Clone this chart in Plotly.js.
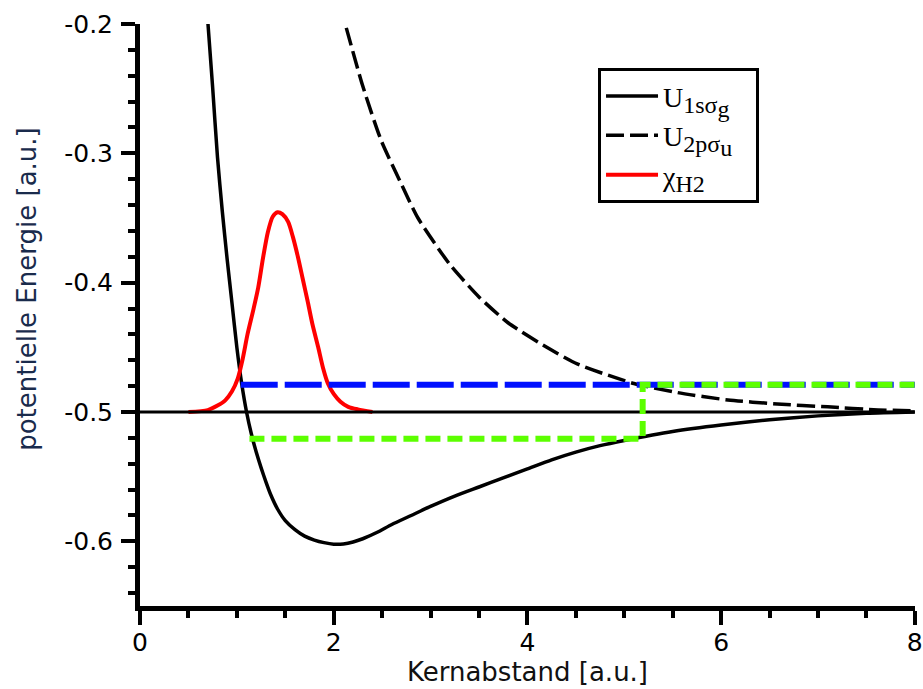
<!DOCTYPE html>
<html>
<head>
<meta charset="utf-8">
<script src="https://cdn.plot.ly/plotly-3.0.1.min.js"></script>
<style>html,body{margin:0;padding:0;background:#fff;}#chart{width:923px;height:689px;}</style>
</head>
<body>
<div id="chart"></div>
<script>
// Kernabstand R [a.u.] and potential energies [a.u.]
var u1R = [0.70,0.75,0.80,0.85,0.90,0.95,1.00,1.05,1.10,1.15,1.20,1.25,1.30,1.35,1.42,1.50,1.60,1.70,1.80,1.90,2.00,2.10,2.20,2.30,2.45,2.60,2.80,3.00,3.25,3.50,3.75,4.00,4.25,4.50,4.75,5.00,5.50,6.00,6.50,7.00,7.50,8.00];
var u1E = [-0.198,-0.249,-0.303,-0.345,-0.382,-0.416,-0.450,-0.478,-0.500,-0.517,-0.531,-0.543,-0.554,-0.564,-0.575,-0.584,-0.591,-0.596,-0.599,-0.601,-0.6022,-0.602,-0.6005,-0.598,-0.593,-0.587,-0.580,-0.573,-0.565,-0.558,-0.551,-0.544,-0.537,-0.531,-0.526,-0.522,-0.515,-0.510,-0.506,-0.503,-0.501,-0.500];

var u2R = [2.13,2.30,2.49,2.70,2.87,3.20,3.50,3.80,4.20,4.52,5.10,5.55,6.07,6.58,7.10,7.62,8.00];
var u2E = [-0.203,-0.248,-0.290,-0.324,-0.350,-0.386,-0.411,-0.431,-0.450,-0.463,-0.478,-0.485,-0.4907,-0.4938,-0.496,-0.4984,-0.499];

var chiR = [0.50,0.70,0.80,0.88,0.95,1.01,1.06,1.11,1.17,1.22,1.27,1.32,1.37,1.42,1.47,1.53,1.58,1.63,1.68,1.73,1.78,1.84,1.89,1.94,2.00,2.07,2.15,2.25,2.40];
var chiE = [-0.500,-0.4985,-0.495,-0.491,-0.484,-0.474,-0.459,-0.440,-0.421,-0.404,-0.381,-0.361,-0.349,-0.3455,-0.347,-0.353,-0.365,-0.380,-0.397,-0.414,-0.432,-0.450,-0.466,-0.478,-0.486,-0.492,-0.496,-0.498,-0.500];

var asymR = [0, 8];
var asymE = [-0.5, -0.5];

var blueR = [1.04, 8];
var blueE = [-0.479, -0.479];

var greenR = [1.13, 5.19, 5.19, 8];
var greenE = [-0.5207, -0.5207, -0.479, -0.479];

var xTickVals = [0, 2, 4, 6, 8];
var xTickText = ['0', '2', '4', '6', '8'];
var yTickVals = [-0.2, -0.3, -0.4, -0.5, -0.6];
var yTickText = ['-0.2', '-0.3', '-0.4', '-0.5', '-0.6'];

var names = [
  'U<sub><span style="font-size:24px">1sσ</span><sub><span style="font-size:24px">g</span></sub></sub>\u00A0\u00A0\u00A0',
  'U<sub><span style="font-size:24px">2pσ</span><sub><span style="font-size:24px">u</span></sub></sub>',
  'χ<sub><span style="font-size:24px">H2</span></sub>'
];

var traces = [
  {x: u1R, y: u1E, name: names[0], legendrank: 1, mode: 'lines', line: {color: '#000', width: 3.5, shape: 'spline', smoothing: 0.6}},
  {x: chiR, y: chiE, name: names[2], legendrank: 3, mode: 'lines', line: {color: '#ff0000', width: 4, shape: 'spline', smoothing: 0.7}},
  {x: asymR, y: asymE, showlegend: false, mode: 'lines', line: {color: '#000', width: 3}},
  {x: u2R, y: u2E, name: names[1], legendrank: 2, mode: 'lines', line: {color: '#000', width: 3.5, dash: '18px,6px', shape: 'spline', smoothing: 0.6}},
  {x: blueR, y: blueE, showlegend: false, mode: 'lines', line: {color: '#0010ff', width: 6, dash: '37px,7px'}},
  {x: greenR, y: greenE, showlegend: false, mode: 'lines', line: {color: '#5cff00', width: 6, dash: '15px,7px'}}
];

var tickFont = {family: 'DejaVu Sans, Verdana, sans-serif', size: 25, color: '#000'};

var layout = {
  width: 923, height: 689,
  margin: {l: 140, r: 8, t: 24, b: 83, pad: 0},
  paper_bgcolor: '#fff', plot_bgcolor: '#fff',
  showlegend: true,
  xaxis: {
    range: [0, 8.002], tickmode: 'array', tickvals: xTickVals, ticktext: xTickText,
    ticks: 'outside', ticklen: 14, tickwidth: 4, tickcolor: '#000',
    showline: true, linewidth: 5, linecolor: '#000', mirror: false,
    showgrid: false, zeroline: false, tickfont: tickFont, ticklabeloverflow: 'allow',
    ticklabelstandoff: -4,
    minor: {tickmode: 'linear', tick0: 0, dtick: 0.5, ticks: 'outside', ticklen: 7, tickwidth: 4, tickcolor: '#000', showgrid: false},
    title: {text: 'Kernabstand [a.u.]', font: {family: 'DejaVu Sans, Verdana, sans-serif', size: 26, color: '#111'}, standoff: 0}
  },
  yaxis: {
    range: [-0.65, -0.2], tickmode: 'array', tickvals: yTickVals, ticktext: yTickText,
    ticks: 'outside', ticklen: 14, tickwidth: 4, tickcolor: '#000',
    showline: true, linewidth: 5, linecolor: '#000', mirror: false,
    showgrid: false, zeroline: false, tickfont: tickFont, ticklabeloverflow: 'allow',
    ticklabelstandoff: 3,
    minor: {tickmode: 'linear', tick0: -0.2, dtick: 0.02, ticks: 'outside', ticklen: 7, tickwidth: 4, tickcolor: '#000', showgrid: false}
  },
  legend: {
    x: 0.591, y: 0.924, xanchor: 'left', yanchor: 'top',
    bgcolor: '#fff', bordercolor: '#000', borderwidth: 3,
    font: {family: 'Liberation Serif, Times New Roman, serif', size: 28, color: '#000'},
    itemwidth: 52, traceorder: 'normal'
  },
  annotations: [{
    text: 'potentielle Energie [a.u.]', textangle: -90,
    xref: 'paper', yref: 'paper', x: -0.146, y: 0.5447,
    xanchor: 'center', yanchor: 'middle', showarrow: false,
    font: {family: 'DejaVu Sans, Verdana, sans-serif', size: 26, color: '#1a2b4c'}
  }]
};

Plotly.newPlot('chart', traces, layout, {displayModeBar: false, staticPlot: true});
</script>
</body>
</html>
